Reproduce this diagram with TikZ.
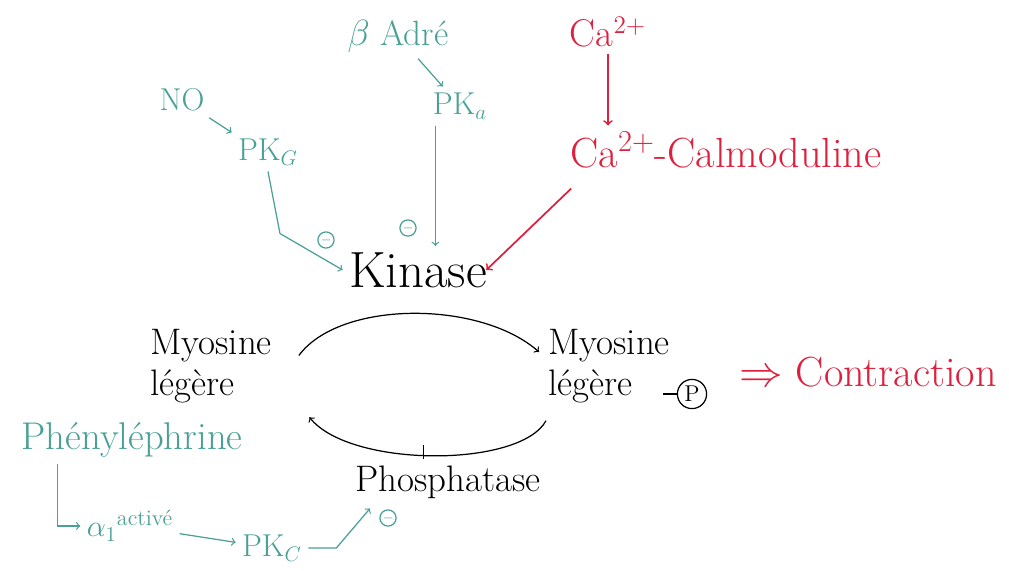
\documentclass[tikz,border=0pt]{standalone}
\usepackage{fontspec}
\usetikzlibrary{positioning}
\definecolor{tealink}{RGB}{72,160,150}
\definecolor{redink}{RGB}{222,32,62}
\tikzset{
  voie/.style={tealink, font=\fontsize{18}{20}\selectfont},
  calc/.style={redink, font=\fontsize{24}{26}\selectfont},
  myo/.style={align=left, anchor=west, font=\fontsize{21}{23}\selectfont, inner sep=1pt},
  inhib/.style={circle, draw, inner sep=0.4pt, font=\scriptsize},
}
\begin{document}
\begin{tikzpicture}[x=0.02cm, y=-0.02cm, line width=0.7pt]
  \useasboundingbox (0,0) rectangle (1009,571);
  % voies activatrices de la kinase
  \node[voie, font=\fontsize{20}{22}\selectfont] (badre) at (398,36) {$\beta$ Adré};
  \node[voie] (no) at (182,100) {NO};
  \node[voie] (pkg) at (268,152) {PK$_G$};
  \node[voie] (pka) at (460,106) {PK$_a$};
  \node[font=\fontsize{29}{31}\selectfont] (kinase) at (418,270) {Kinase};
  \node[tealink, inhib] (m1) at (326,240) {$-$};
  \node[tealink, inhib] (m2) at (408,228) {$-$};
  \draw[->, tealink] (badre) -- (pka);
  \draw[->, tealink] (no) -- (pkg.north west);
  \draw[->, tealink] (pkg.south) -- ++(12,62) -- (kinase.west);
  \draw[->, tealink] ([xshift=-14pt]pka.south) coordinate (a) -- (a |- kinase.north);
  % calcium
  \node[calc, font=\fontsize{22}{24}\selectfont] (ca) at (608,32) {Ca$^{2+}$};
  \node[calc] (cam) at (726,150) {Ca$^{2+}$-Calmoduline};
  \draw[->, redink, line width=1pt] (ca.south) -- (ca.south |- cam.north);
  \draw[->, redink, line width=1pt] ([xshift=4pt,yshift=-8pt]cam.south west) -- ([xshift=-4pt]kinase.east);
  % cycle de la myosine
  \node[myo] (myoL) at (148,366) {Myosine\\légère};
  \node[myo] (myoR) at (546,366) {Myosine\\légère};
  \node[circle, draw, inner sep=1.5pt, font=\fontsize{13}{14}\selectfont] (pho) at (692,394) {P};
  \draw (pho.west) -- ++(-14,0);
  \draw[->] ([xshift=14pt,yshift=6pt]myoL.east) .. controls (340,300) and (480,300) .. ([xshift=-4pt,yshift=8pt]myoR.west);
  \draw[->] ([yshift=-9pt]myoR.south west) .. controls (520,468) and (350,468) .. ([xshift=20pt,yshift=-7pt]myoL.south east);
  \node[calc] (contr) at (868,372) {$\Rightarrow$ Contraction};
  % phosphatase
  \node[font=\fontsize{21}{23}\selectfont] (phos) at (448,482) {Phosphatase};
  \draw ([xshift=-14pt]phos.north) -- ++(0,-14);
  \node[voie, font=\fontsize{22}{24}\selectfont] (phe) at (132,440) {Phényléphrine};
  \node[voie] (alpha) at (130,526) {$\alpha_1$\textsuperscript{activé}};
  \node[voie] (pkc) at (272,548) {PK$_C$};
  \node[tealink, inhib] (m3) at (388,518) {$-$};
  \draw[->, tealink] ([xshift=24pt]phe.south west) |- (alpha.west);
  \draw[->, tealink] (alpha) -- (pkc);
  \draw[->, tealink] (pkc.east) -- ++(28,0) -- ([xshift=12pt,yshift=-2pt]phos.south west);
\end{tikzpicture}
\end{document}
